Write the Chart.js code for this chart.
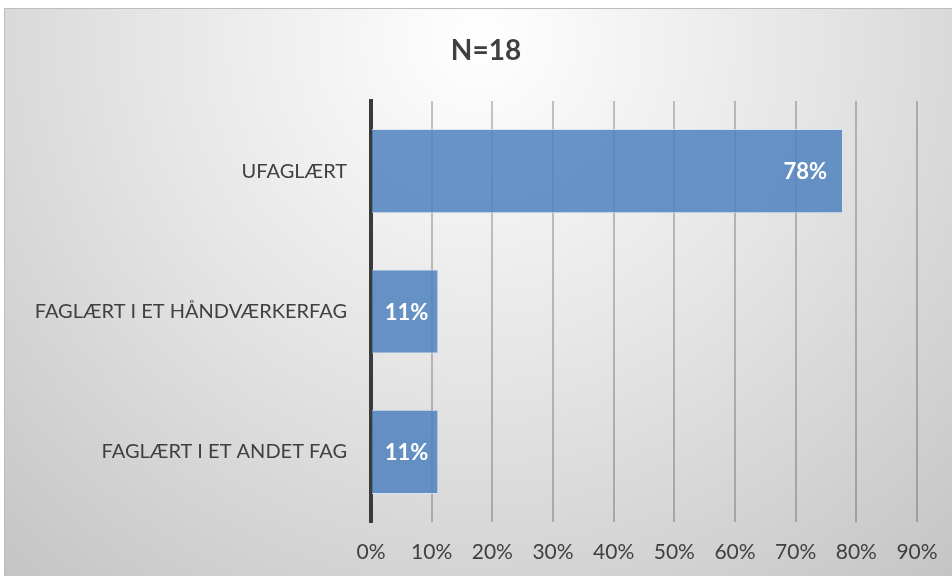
<!DOCTYPE html>
<html>
<head>
<meta charset="utf-8">
<script src="https://cdn.jsdelivr.net/npm/chart.js@4.4.1/dist/chart.umd.min.js"></script>
<style>
  html, body { margin: 0; padding: 0; background: #fff; }
  #wrap { width: 952px; height: 576px; }
</style>
</head>
<body>
<div id="wrap"><canvas id="chart" width="952" height="576"></canvas></div>
<script>
const categories = ["UFAGLÆRT", "FAGLÆRT I ET HÅNDVÆRKERFAG", "FAGLÆRT I ET ANDET FAG"];
const shares = [77.8, 11.1, 11.1];
const tickValues = [0, 10, 20, 30, 40, 50, 60, 70, 80, 90];
const title = "N=18";

Chart.defaults.font.family = "Lato, 'Open Sans', sans-serif";
Chart.defaults.color = "#404040";

// grey panel with the light spot at the top, like the office chart style
const panel = {
    id: "panel",
    beforeDraw(chart) {
        const ctx = chart.ctx;
        const w = chart.width, h = chart.height;
        ctx.save();
        ctx.fillStyle = "#ffffff";
        ctx.fillRect(0, 0, w, h);
        const g = ctx.createRadialGradient(480, 40, 0, 480, 40, 720);
        g.addColorStop(0, "#ffffff");
        g.addColorStop(0.45, "#e6e6e6");
        g.addColorStop(1, "#c4c4c4");
        ctx.fillStyle = g;
        ctx.fillRect(4, 8, w - 4, h - 8);
        ctx.strokeStyle = "#bdbdbd";
        ctx.lineWidth = 1;
        ctx.strokeRect(4.5, 8.5, w - 4, h - 8);
        ctx.restore();
    }
};

// title sits a little right of the canvas centre, over the whole panel
const chartTitle = {
    id: "chartTitle",
    afterDraw(chart) {
        const ctx = chart.ctx;
        ctx.save();
        ctx.font = "bold 28px Lato, 'Open Sans', sans-serif";
        ctx.fillStyle = "#404040";
        ctx.textAlign = "center";
        ctx.textBaseline = "middle";
        ctx.fillText(title, 486, 51);
        ctx.restore();
    }
};

// value labels inside the end of each bar
const barLabels = {
    id: "barLabels",
    afterDatasetsDraw(chart) {
        const ctx = chart.ctx;
        const meta = chart.getDatasetMeta(0);
        ctx.save();
        ctx.font = "bold 22px Lato, 'Open Sans', sans-serif";
        ctx.fillStyle = "#ffffff";
        ctx.textAlign = "right";
        ctx.textBaseline = "middle";
        meta.data.forEach((bar, i) => {
            const pad = shares[i] > 30 ? 16 : 10;
            ctx.fillText(Math.round(shares[i]) + "%", bar.x - pad, bar.y + 1);
        });
        ctx.restore();
    }
};

new Chart(document.getElementById("chart"), {
    type: "bar",
    data: {
        labels: categories,
        datasets: [{
            data: shares,
            backgroundColor: "rgba(79, 129, 189, 0.85)",
            borderColor: "rgba(215, 227, 242, 0.9)",
            borderWidth: 1,
            categoryPercentage: 0.6,
            barPercentage: 1
        }]
    },
    options: {
        indexAxis: "y",
        responsive: false,
        animation: false,
        layout: { padding: { left: 0, right: 35, top: 101, bottom: 0 } },
        plugins: {
            legend: { display: false },
            tooltip: { enabled: false },
            title: { display: false }
        },
        scales: {
            x: {
                min: 0,
                max: 90,
                afterBuildTicks(axis) {
                    axis.ticks = tickValues.map(v => ({ value: v }));
                },
                afterFit(axis) {
                    axis.height = 54;
                    axis.paddingLeft = 0;
                    axis.paddingRight = 0;
                },
                grid: {
                    color: "rgba(0, 0, 0, 0.22)",
                    lineWidth: 2,
                    drawTicks: false
                },
                border: { display: false },
                ticks: {
                    padding: 18,
                    font: { size: 21 },
                    color: "#404040",
                    callback: v => v + "%"
                }
            },
            y: {
                afterFit(axis) { axis.width = 371; },
                grid: { display: false },
                border: { color: "#3a3a3a", width: 4 },
                ticks: {
                    padding: 16,
                    font: { size: 20 },
                    color: "#404040"
                }
            }
        }
    },
    plugins: [panel, barLabels, chartTitle]
});
</script>
</body>
</html>
